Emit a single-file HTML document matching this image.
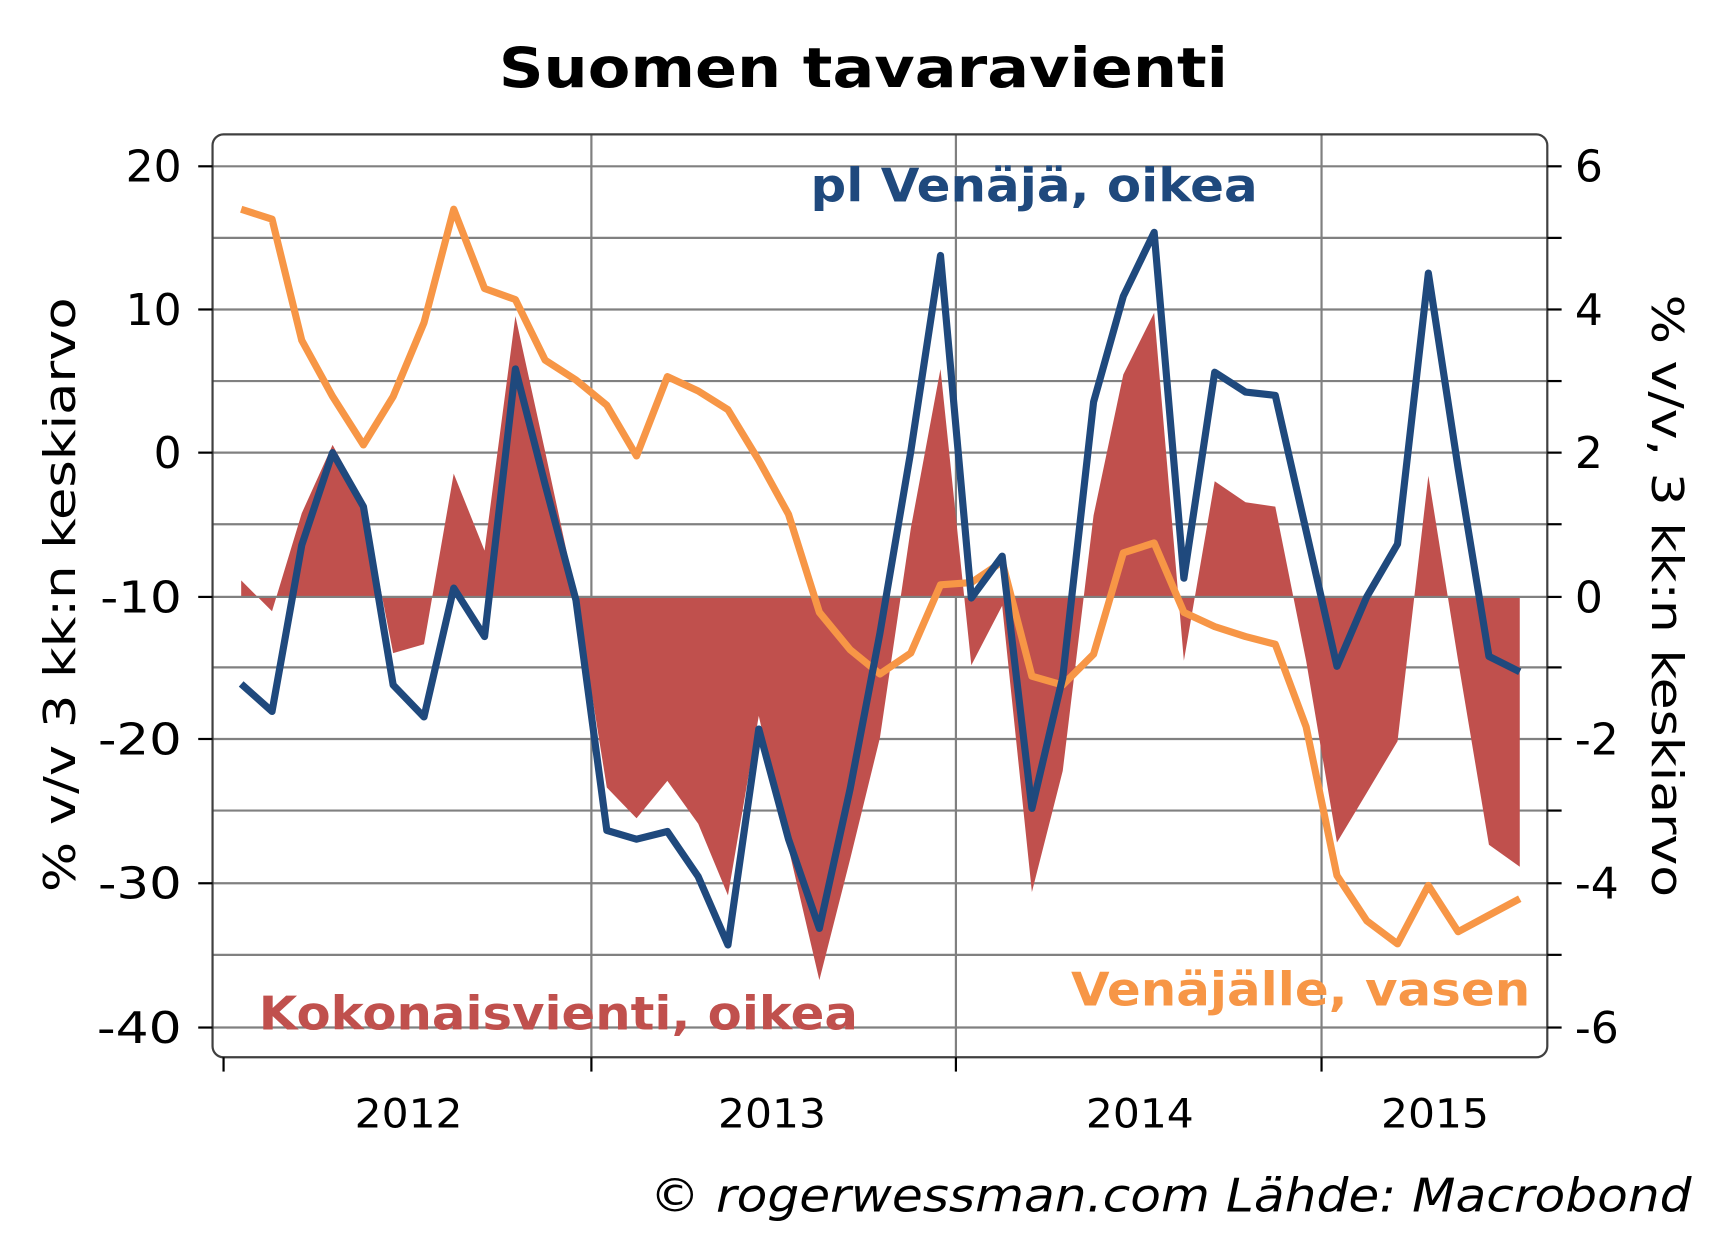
<!DOCTYPE html>
<html><head><style>html,body{margin:0;padding:0;background:#fff}svg{display:block}</style></head>
<body>
<svg width="1718" height="1250" viewBox="0 0 1560 1135" preserveAspectRatio="none" xmlns="http://www.w3.org/2000/svg" font-family="DejaVu Sans, Liberation Sans, sans-serif">
<rect width="1560" height="1135" fill="#fff"/>
<text x="784" y="79" text-anchor="middle" font-size="50" font-weight="bold" textLength="662" lengthAdjust="spacingAndGlyphs">Suomen tavaravienti</text>
<g stroke="#808080" stroke-width="2">
<line x1="193" x2="1405" y1="151" y2="151"/><line x1="193" x2="1405" y1="216" y2="216"/>
<line x1="193" x2="1405" y1="281" y2="281"/><line x1="193" x2="1405" y1="346" y2="346"/>
<line x1="193" x2="1405" y1="411" y2="411"/><line x1="193" x2="1405" y1="476" y2="476"/>
<line x1="193" x2="1405" y1="542" y2="542"/><line x1="193" x2="1405" y1="606" y2="606"/>
<line x1="193" x2="1405" y1="671" y2="671"/><line x1="193" x2="1405" y1="736" y2="736"/>
<line x1="193" x2="1405" y1="802" y2="802"/><line x1="193" x2="1405" y1="867" y2="867"/>
<line x1="193" x2="1405" y1="933" y2="933"/>
<line x1="537" x2="537" y1="122" y2="960"/><line x1="868" x2="868" y1="122" y2="960"/><line x1="1200" x2="1200" y1="122" y2="960"/>
</g>
<polygon fill="#c0504d" points="219,542 219,527 247,555 274,466 302,404 330,455 357,593 385,585 412,430 440,500 468,287 495,410 523,540 551,715 578,743 606,709 634,748 661,813 689,650 716,770 744,890 772,780 799,670 827,480 854,335 882,604 910,550 937,810 965,700 993,468 1020,340 1048,284 1075,600 1103,437 1131,456 1158,460 1186,600 1214,765 1241,720 1269,673 1297,432 1324,600 1352,767 1380,787 1380,542"/>
<line x1="193" x2="1405" y1="542" y2="542" stroke="#808080" stroke-width="2"/>
<polyline fill="none" stroke="#f79646" stroke-width="6.5" stroke-linejoin="round" points="219,190 247,199 274,309 302,360 330,404 357,360 385,293 412,190 440,262 468,272 495,327 523,345 551,368 578,414 606,342 634,355 661,372 689,418 716,467 744,556 772,590 799,612 827,593 854,531 882,529 910,510 937,614 965,622 993,594 1020,502 1048,493 1075,556 1103,569 1131,578 1158,585 1186,660 1214,795 1241,836 1269,857 1297,804 1324,846 1352,831 1380,816"/>
<polyline fill="none" stroke="#1f497d" stroke-width="6.5" stroke-linejoin="round" points="219,621 247,646 274,495 302,411 330,460 357,622 385,651 412,534 440,578 468,335 495,440 523,545 551,754 578,762 606,755 634,796 661,858 689,662 716,762 744,843 772,716 799,575 827,410 854,232 882,543 910,505 937,734 965,615 993,365 1020,269 1048,211 1075,525 1103,338 1131,356 1158,359 1186,482 1214,605 1241,542 1269,494 1297,248 1324,425 1352,596 1380,610"/>
<rect x="193" y="122" width="1212" height="838" rx="10" fill="none" stroke="#404040" stroke-width="2"/>
<g stroke="#000" stroke-width="2">
<line x1="180" x2="193" y1="151" y2="151"/><line x1="180" x2="193" y1="281" y2="281"/><line x1="180" x2="193" y1="411" y2="411"/><line x1="180" x2="193" y1="542" y2="542"/><line x1="180" x2="193" y1="671" y2="671"/><line x1="180" x2="193" y1="802" y2="802"/><line x1="180" x2="193" y1="933" y2="933"/>
<line x1="1405" x2="1418" y1="151" y2="151"/><line x1="1405" x2="1418" y1="216" y2="216"/><line x1="1405" x2="1418" y1="281" y2="281"/><line x1="1405" x2="1418" y1="346" y2="346"/><line x1="1405" x2="1418" y1="411" y2="411"/><line x1="1405" x2="1418" y1="476" y2="476"/><line x1="1405" x2="1418" y1="542" y2="542"/><line x1="1405" x2="1418" y1="606" y2="606"/><line x1="1405" x2="1418" y1="671" y2="671"/><line x1="1405" x2="1418" y1="736" y2="736"/><line x1="1405" x2="1418" y1="802" y2="802"/><line x1="1405" x2="1418" y1="867" y2="867"/><line x1="1405" x2="1418" y1="933" y2="933"/>
<line x1="203" x2="203" y1="960" y2="973"/><line x1="537" x2="537" y1="960" y2="973"/><line x1="868" x2="868" y1="960" y2="973"/><line x1="1200" x2="1200" y1="960" y2="973"/>
</g>
<g font-size="40" text-anchor="end">
<text x="165" y="165">20</text><text x="165" y="295">10</text><text x="165" y="425">0</text><text x="165" y="556" textLength="74" lengthAdjust="spacingAndGlyphs">-10</text><text x="165" y="685" textLength="76" lengthAdjust="spacingAndGlyphs">-20</text><text x="165" y="816" textLength="76" lengthAdjust="spacingAndGlyphs">-30</text><text x="165" y="947" textLength="77" lengthAdjust="spacingAndGlyphs">-40</text>
</g>
<g font-size="40">
<text x="1430" y="165">6</text><text x="1430" y="295">4</text><text x="1430" y="425">2</text><text x="1430" y="556">0</text><text x="1430" y="685">-2</text><text x="1430" y="816">-4</text><text x="1430" y="947">-6</text>
</g>
<g font-size="36" text-anchor="middle">
<text x="371" y="1024" textLength="98" lengthAdjust="spacingAndGlyphs">2012</text><text x="701" y="1024" textLength="98" lengthAdjust="spacingAndGlyphs">2013</text><text x="1035" y="1024" textLength="98" lengthAdjust="spacingAndGlyphs">2014</text><text x="1303" y="1024" textLength="98" lengthAdjust="spacingAndGlyphs">2015</text>
</g>
<text transform="translate(68,540) rotate(-90)" text-anchor="middle" font-size="40" textLength="540" lengthAdjust="spacingAndGlyphs">% v/v 3 kk:n keskiarvo</text>
<text transform="translate(1500,541) rotate(90)" text-anchor="middle" font-size="40" textLength="547" lengthAdjust="spacingAndGlyphs">% v/v, 3 kk:n keskiarvo</text>
<text x="939" y="183" text-anchor="middle" font-size="42" font-weight="bold" fill="#1f497d" textLength="406" lengthAdjust="spacingAndGlyphs">pl Venäjä, oikea</text>
<text x="507" y="935" text-anchor="middle" font-size="42" font-weight="bold" fill="#c0504d" textLength="544" lengthAdjust="spacingAndGlyphs">Kokonaisvienti, oikea</text>
<text x="1181" y="913" text-anchor="middle" font-size="42" font-weight="bold" fill="#f79646" textLength="417" lengthAdjust="spacingAndGlyphs">Venäjälle, vasen</text>
<text x="1536" y="1100" text-anchor="end" font-size="42" font-style="italic" textLength="946" lengthAdjust="spacingAndGlyphs">© rogerwessman.com Lähde: Macrobond</text>
</svg>
</body></html>
